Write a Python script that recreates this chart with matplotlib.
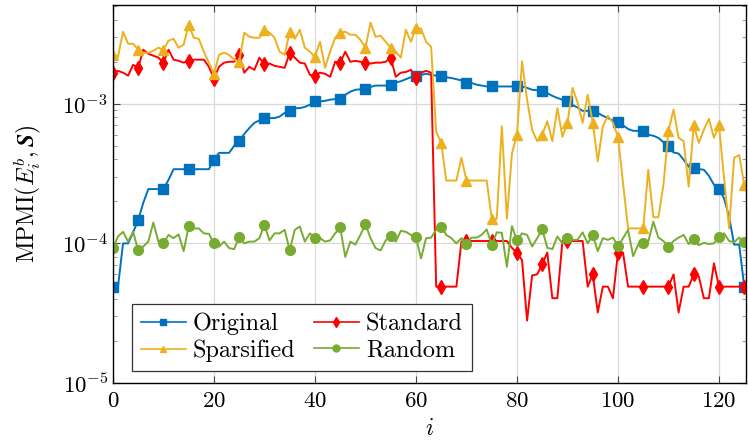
import numpy as np
import matplotlib
matplotlib.use("Agg")
import matplotlib.pyplot as plt
from matplotlib.ticker import LogLocator, NullFormatter, MultipleLocator

plt.rcParams['font.family'] = 'serif'
plt.rcParams['font.serif'] = ['cmr10', 'DejaVu Serif']
plt.rcParams['mathtext.fontset'] = 'cm'
plt.rcParams['axes.formatter.use_mathtext'] = True
plt.rcParams['axes.unicode_minus'] = False

# ---------------- data ----------------
original = [4.9e-5, 4.9e-5, 1.0e-4, 1.0e-4, 1.2e-4, 1.47e-4, 1.95e-4, 2.45e-4, 2.45e-4, 2.45e-4,
            2.45e-4, 2.85e-4, 3.4e-4, 3.4e-4, 3.4e-4, 3.4e-4, 3.4e-4, 3.4e-4, 3.4e-4, 3.4e-4,
            3.96e-4, 4.45e-4, 4.45e-4, 4.45e-4, 5.0e-4, 5.43e-4, 6.07e-4, 6.7e-4, 7.3e-4, 7.6e-4,
            7.9e-4, 7.9e-4, 7.9e-4, 8.1e-4, 8.6e-4, 8.9e-4, 9.3e-4, 9.3e-4, 9.5e-4, 9.85e-4,
            1.04e-3, 1.04e-3, 1.05e-3, 1.07e-3, 1.08e-3, 1.09e-3, 1.16e-3, 1.22e-3, 1.26e-3, 1.27e-3,
            1.27e-3, 1.32e-3, 1.35e-3, 1.35e-3, 1.35e-3, 1.37e-3, 1.42e-3, 1.45e-3, 1.50e-3, 1.55e-3,
            1.59e-3, 1.61e-3, 1.64e-3, 1.61e-3, 1.59e-3, 1.59e-3, 1.55e-3, 1.53e-3, 1.50e-3, 1.47e-3,
            1.42e-3, 1.41e-3, 1.37e-3, 1.35e-3, 1.33e-3, 1.33e-3, 1.33e-3, 1.33e-3, 1.33e-3, 1.33e-3,
            1.33e-3, 1.33e-3, 1.30e-3, 1.26e-3, 1.25e-3, 1.24e-3, 1.19e-3, 1.14e-3, 1.10e-3, 1.07e-3,
            1.04e-3, 9.8e-4, 9.4e-4, 8.9e-4, 8.9e-4, 8.9e-4, 8.6e-4, 8.2e-4, 7.9e-4, 7.6e-4,
            7.4e-4, 7.0e-4, 6.6e-4, 6.4e-4, 6.4e-4, 6.4e-4, 6.0e-4, 5.9e-4, 5.7e-4, 5.3e-4,
            4.95e-4, 4.48e-4, 4.4e-4, 3.97e-4, 3.55e-4, 3.46e-4, 3.4e-4, 3.37e-4, 3.05e-4, 2.63e-4,
            2.45e-4, 2.1e-4, 1.55e-4, 9.8e-5, 9.8e-5, 4.9e-5, 4.9e-5]

standard = [1.67e-3, 1.72e-3, 1.67e-3, 1.59e-3, 1.90e-3, 1.81e-3, 2.44e-3, 2.28e-3, 2.21e-3, 2.14e-3,
            1.97e-3, 2.44e-3, 2.07e-3, 2.03e-3, 1.97e-3, 2.03e-3, 2.07e-3, 2.07e-3, 2.07e-3, 1.84e-3,
            1.51e-3, 1.84e-3, 1.97e-3, 2.00e-3, 2.00e-3, 2.24e-3, 1.67e-3, 1.84e-3, 1.75e-3, 2.14e-3,
            1.92e-3, 1.94e-3, 1.87e-3, 1.84e-3, 1.81e-3, 2.32e-3, 2.14e-3, 1.97e-3, 1.94e-3, 1.61e-3,
            1.59e-3, 1.67e-3, 1.64e-3, 1.56e-3, 2.00e-3, 1.97e-3, 2.36e-3, 2.00e-3, 2.03e-3, 2.00e-3,
            1.97e-3, 1.94e-3, 1.97e-3, 1.97e-3, 2.00e-3, 2.14e-3, 1.56e-3, 1.67e-3, 1.69e-3, 1.75e-3,
            1.53e-3, 1.67e-3, 1.72e-3, 1.67e-3, 4.9e-5, 4.9e-5, 4.9e-5, 4.9e-5, 4.9e-5, 1.03e-4,
            1.04e-4, 1.04e-4, 1.04e-4, 1.04e-4, 1.04e-4, 1.04e-4, 1.04e-4, 1.04e-4, 1.04e-4, 9.3e-5,
            8.5e-5, 7.6e-5, 2.8e-5, 5.9e-5, 6.0e-5, 7.1e-5, 8.6e-5, 4.05e-5, 4.05e-5, 1.04e-4,
            1.04e-4, 1.04e-4, 1.04e-4, 1.04e-4, 4.9e-5, 6.0e-5, 3.2e-5, 4.9e-5, 4.9e-5, 4.05e-5,
            8.6e-5, 8.6e-5, 4.9e-5, 4.9e-5, 4.9e-5, 4.9e-5, 4.9e-5, 4.9e-5, 4.9e-5, 4.9e-5,
            4.9e-5, 6.0e-5, 3.2e-5, 4.9e-5, 4.9e-5, 6.0e-5, 5.8e-5, 4.05e-5, 4.05e-5, 7.2e-5,
            4.9e-5, 4.9e-5, 4.9e-5, 4.9e-5, 4.9e-5, 4.9e-5, 4.9e-5]

sparsified = [2.24e-3, 2.17e-3, 3.28e-3, 2.69e-3, 2.69e-3, 2.44e-3, 2.32e-3, 2.32e-3, 2.40e-3, 2.52e-3,
              2.44e-3, 2.83e-3, 2.92e-3, 2.52e-3, 2.65e-3, 3.68e-3, 2.97e-3, 2.92e-3, 2.36e-3, 1.97e-3,
              1.64e-3, 2.24e-3, 2.32e-3, 2.24e-3, 2.07e-3, 2.00e-3, 3.23e-3, 3.02e-3, 2.97e-3, 2.97e-3,
              3.39e-3, 3.23e-3, 2.97e-3, 2.36e-3, 2.24e-3, 3.28e-3, 2.92e-3, 3.39e-3, 2.52e-3, 2.36e-3,
              2.17e-3, 2.78e-3, 1.81e-3, 2.36e-3, 2.97e-3, 3.23e-3, 3.28e-3, 3.12e-3, 3.12e-3, 2.87e-3,
              2.52e-3, 3.81e-3, 3.02e-3, 3.07e-3, 2.78e-3, 2.52e-3, 2.36e-3, 2.14e-3, 3.39e-3, 2.78e-3,
              3.51e-3, 3.45e-3, 2.78e-3, 2.56e-3, 6.3e-4, 5.25e-4, 2.82e-4, 2.82e-4, 2.82e-4, 4.1e-4,
              2.82e-4, 2.82e-4, 2.82e-4, 2.82e-4, 2.82e-4, 1.5e-4, 1.5e-4, 6.9e-4, 1.5e-4, 4.4e-4,
              6.0e-4, 2.01e-3, 1.07e-3, 6.5e-4, 5.4e-4, 6.0e-4, 7.5e-4, 5.4e-4, 9.3e-4, 5.8e-4,
              7.3e-4, 1.3e-3, 1.02e-3, 7.3e-4, 1.16e-3, 7.3e-4, 3.86e-4, 6.9e-4, 8.2e-4, 7.3e-4,
              5.8e-4, 2.7e-4, 1.28e-4, 1.28e-4, 1.28e-4, 1.28e-4, 3.37e-4, 1.54e-4, 1.54e-4, 2.63e-4,
              6.4e-4, 9.1e-4, 5.7e-4, 5.4e-4, 2.55e-4, 7.0e-4, 5.25e-4, 6.5e-4, 7.8e-4, 5.7e-4,
              7.0e-4, 2.95e-4, 1.28e-4, 4.1e-4, 4.3e-4, 2.63e-4, 2.05e-4]

random_ = [9.25e-5, 1.12e-4, 1.21e-4, 1.03e-4, 1.21e-4, 8.9e-5, 9.5e-5, 1.03e-4, 1.41e-4, 1.03e-4,
           1.00e-4, 1.15e-4, 1.09e-4, 1.16e-4, 8.8e-5, 1.33e-4, 1.28e-4, 1.28e-4, 1.18e-4, 1.17e-4,
           1.00e-4, 9.5e-5, 1.03e-4, 9.25e-5, 9.1e-5, 1.12e-4, 1.00e-4, 1.03e-4, 1.03e-4, 1.09e-4,
           1.36e-4, 1.05e-4, 1.18e-4, 1.18e-4, 1.25e-4, 8.95e-5, 1.25e-4, 1.32e-4, 1.03e-4, 1.18e-4,
           1.09e-4, 1.09e-4, 1.03e-4, 1.05e-4, 1.18e-4, 1.30e-4, 8.0e-5, 1.03e-4, 9.8e-5, 1.15e-4,
           1.37e-4, 1.09e-4, 9.25e-5, 8.9e-5, 1.05e-4, 1.13e-4, 1.03e-4, 1.23e-4, 1.21e-4, 1.15e-4,
           1.11e-4, 7.8e-5, 1.09e-4, 1.10e-4, 1.25e-4, 1.32e-4, 1.15e-4, 1.09e-4, 1.00e-4, 1.09e-4,
           9.95e-5, 1.10e-4, 1.10e-4, 1.15e-4, 1.26e-4, 9.8e-5, 1.20e-4, 1.19e-4, 6.8e-5, 1.33e-4,
           1.05e-4, 1.18e-4, 1.15e-4, 9.5e-5, 1.09e-4, 1.26e-4, 9.3e-5, 9.1e-5, 1.12e-4, 1.00e-4,
           1.09e-4, 1.06e-4, 1.06e-4, 1.20e-4, 1.00e-4, 1.15e-4, 8.8e-5, 1.09e-4, 1.06e-4, 1.10e-4,
           9.6e-5, 1.09e-4, 1.25e-4, 8.1e-5, 9.8e-5, 1.01e-4, 1.03e-4, 1.43e-4, 1.10e-4, 1.04e-4,
           9.5e-5, 1.04e-4, 1.10e-4, 1.15e-4, 9.9e-5, 1.07e-4, 9.7e-5, 1.01e-4, 9.9e-5, 1.00e-4,
           1.12e-4, 1.18e-4, 1.04e-4, 1.02e-4, 1.10e-4, 1.02e-4, 9.3e-5]

labels = ["Original", "Standard", "Sparsified", "Random"]
colors = ["#0072BD", "#FF0000", "#EDB120", "#77AC30"]
markers = ["s", "d", "^", "o"]
msizes = [7, 7, 7.5, 7]

series = [original, standard, sparsified, random_]

# ---------------- figure ----------------
fig = plt.figure(figsize=(7.48, 4.41), dpi=100)
ax = fig.add_axes([0.151, 0.1315, 0.846, 0.8572])

handles = {}
for vals, lab, col, mk, ms in zip(series, labels, colors, markers, msizes):
    x = np.arange(len(vals))
    h, = ax.plot(x, vals, color=col, lw=1.4, marker=mk, markersize=ms,
                 markevery=5, markeredgecolor=col, markerfacecolor=col,
                 label=lab, clip_on=True)
    handles[lab] = h

ax.set_yscale("log")
ax.set_xlim(0, 125.3)
ax.set_ylim(1e-5, 5.1e-3)

ax.xaxis.set_major_locator(MultipleLocator(20))
ax.yaxis.set_major_locator(LogLocator(base=10, numticks=10))
ax.yaxis.set_minor_locator(LogLocator(base=10, subs=np.arange(2, 10), numticks=20))
ax.yaxis.set_minor_formatter(NullFormatter())

ax.grid(True, which="major", color="#d9d9d9", lw=0.9)
ax.set_axisbelow(True)
ax.tick_params(which="both", direction="in", top=True, right=True, labelsize=16.5)
ax.tick_params(which="major", length=5, width=0.8, color="#444444")
ax.tick_params(which="minor", length=3, width=0.6, color="#888888")
ax.tick_params(axis="x", pad=6)
for s in ax.spines.values():
    s.set_linewidth(1.0)

ax.set_xlabel(r"$i$", fontsize=17, labelpad=5)
ax.set_ylabel(r"$\mathrm{MPMI}(E_i^b, \boldsymbol{S})$", fontsize=17, labelpad=13)

order = ["Original", "Sparsified", "Standard", "Random"]
leg = ax.legend([handles[k] for k in order], order, ncol=2, fontsize=17.5,
                loc="lower left", bbox_to_anchor=(0.0305, 0.0325), borderaxespad=0,
                frameon=True, fancybox=False, edgecolor="#333333", framealpha=1,
                handlelength=1.85, columnspacing=0.75, handletextpad=0.3,
                borderpad=0.35, labelspacing=0.18)
leg.get_frame().set_linewidth(0.9)
for lh in leg.legend_handles:
    lh.set_markersize(5)
    lh.set_linewidth(1.2)

fig.savefig("out.png", dpi=100)
